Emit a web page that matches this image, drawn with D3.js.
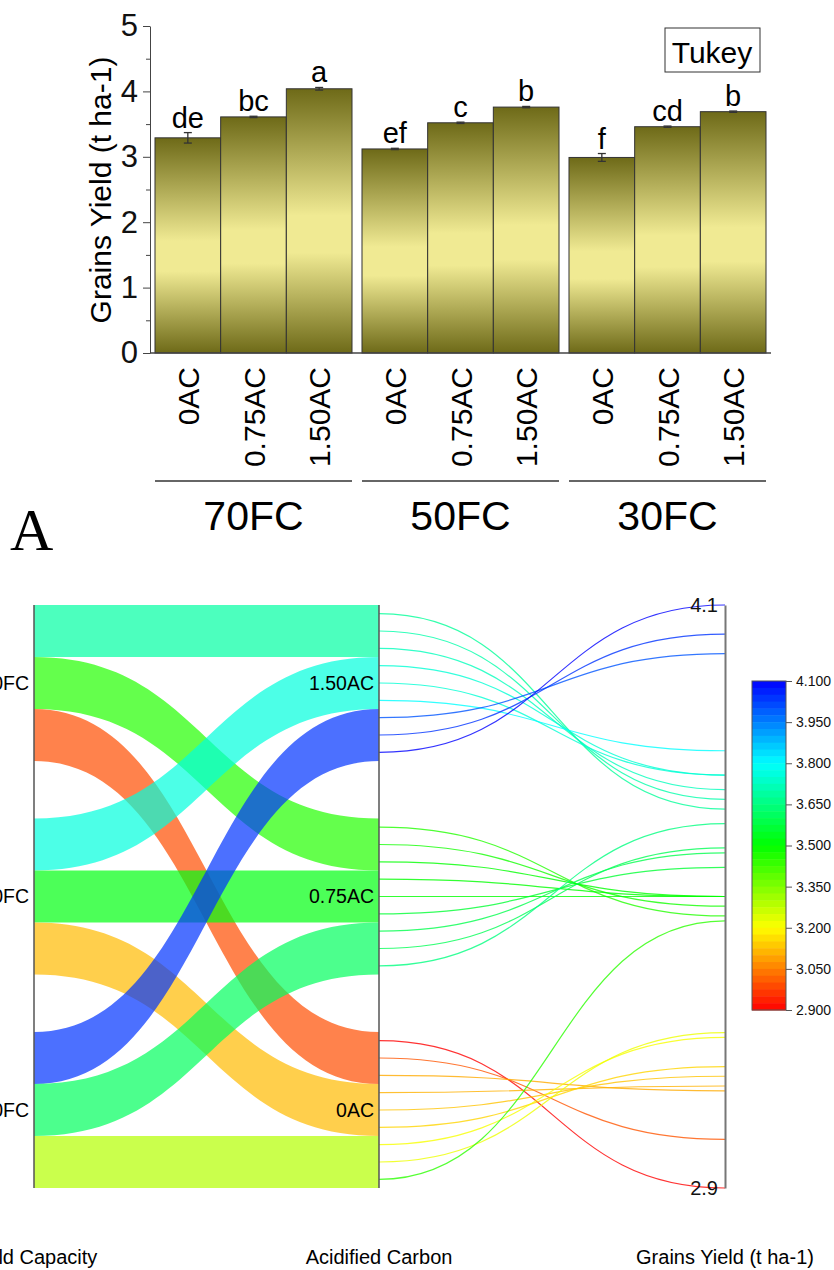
<!DOCTYPE html>
<html lang="en">
<head>
<meta charset="UTF-8">
<title>Grains Yield</title>
<style>
    body { margin: 0; background: #fff; }
    svg { display: block; font-family: "Liberation Sans", Arial, sans-serif; }
</style>
</head>
<body>
<div id="chart"></div>
<script src="https://cdnjs.cloudflare.com/ajax/libs/d3/7.8.5/d3.min.js"></script>
<script>
    // bar chart (means per FC group, AC level)
    const fcGroups = ["70FC", "50FC", "30FC"];
    const acLevels = ["0AC", "0.75AC", "1.50AC"];
    const yieldMeans = [[3.29, 3.61, 4.04], [3.12, 3.52, 3.76], [2.99, 3.46, 3.69]];
    const yieldErr = [[0.08, 0.01, 0.02], [0.01, 0.01, 0.01], [0.06, 0.01, 0.01]];
    const tukeyLetters = [["de", "bc", "a"], ["ef", "c", "b"], ["f", "cd", "b"]];
    const yTicks = [0, 1, 2, 3, 4, 5];
    const yMinorTicks = [0.5, 1.5, 2.5, 3.5, 4.5];

    // parallel sets: replicate yields, same order as above
    const leftOrder = ["30FC", "50FC", "70FC"];
    const midOrder = ["1.50AC", "0.75AC", "0AC"];
    const replicates = {
        "70FC": {"0AC": [3.21, 3.22, 3.45], "0.75AC": [3.59, 3.60, 3.65], "1.50AC": [4.00, 4.04, 4.10]},
        "50FC": {"0AC": [3.11, 3.13, 3.15], "0.75AC": [3.50, 3.50, 3.56], "1.50AC": [3.75, 3.75, 3.80]},
        "30FC": {"0AC": [2.90, 3.00, 3.10], "0.75AC": [3.46, 3.48, 3.50], "1.50AC": [3.68, 3.70, 3.72]}
    };
    const axisTitles = ["Field Capacity", "Acidified Carbon", "Grains Yield (t ha-1)"];
    const colorTicks = [2.9, 3.05, 3.2, 3.35, 3.5, 3.65, 3.8, 3.95, 4.1];

    let svg = d3.select("#chart").append("svg")
        .attr("width", 834)
        .attr("height", 1270);

    // ---------- A: bar chart ----------
    let y = d3.scaleLinear().domain([0, 5]).range([353, 26]);
    let xGroup = d3.scaleBand().domain(fcGroups).range([150, 771])
        .paddingInner(0.0483).paddingOuter(0.02415);
    let xBar = d3.scaleBand().domain(acLevels).range([0, xGroup.bandwidth()]);

    let grad = svg.append("defs").append("linearGradient")
        .attr("id", "olive")
        .attr("x1", 0).attr("y1", 0).attr("x2", 0).attr("y2", 1);
    grad.append("stop").attr("offset", 0).attr("stop-color", "#6e6a18");
    grad.append("stop").attr("offset", 0.48).attr("stop-color", "#f0ea93");
    grad.append("stop").attr("offset", 0.62).attr("stop-color", "#f0ea93");
    grad.append("stop").attr("offset", 1).attr("stop-color", "#6e6a18");

    let bars = [];
    fcGroups.forEach(function (fc, i) {
        acLevels.forEach(function (ac, j) {
            bars.push({fc: fc, ac: ac, mean: yieldMeans[i][j], err: yieldErr[i][j], letter: tukeyLetters[i][j]});
        });
    });
    let barX = function (d) { return xGroup(d.fc) + xBar(d.ac); };

    svg.append("g").selectAll("rect")
        .data(bars)
        .enter()
        .append("rect")
        .attr("x", barX)
        .attr("y", function (d) { return y(d.mean); })
        .attr("width", xBar.bandwidth())
        .attr("height", function (d) { return y(0) - y(d.mean); })
        .style("fill", "url(#olive)")
        .style("stroke", "#333")
        .style("stroke-width", 1);

    let err = svg.append("g").selectAll("g")
        .data(bars)
        .enter()
        .append("g")
        .attr("transform", function (d) { return `translate(${barX(d) + xBar.bandwidth() / 2},0)`; })
        .style("stroke", "#333")
        .style("stroke-width", 1.3);
    err.append("line")
        .attr("y1", function (d) { return y(d.mean - d.err); })
        .attr("y2", function (d) { return y(d.mean + d.err); });
    err.append("line").attr("x1", -4).attr("x2", 4)
        .attr("y1", function (d) { return y(d.mean + d.err); })
        .attr("y2", function (d) { return y(d.mean + d.err); });
    err.append("line").attr("x1", -4).attr("x2", 4)
        .attr("y1", function (d) { return y(d.mean - d.err); })
        .attr("y2", function (d) { return y(d.mean - d.err); });

    svg.append("g").selectAll("text")
        .data(bars)
        .enter()
        .append("text")
        .attr("x", function (d) { return barX(d) + xBar.bandwidth() / 2; })
        .attr("y", function (d) { return y(d.mean + d.err) - 5; })
        .attr("text-anchor", "middle")
        .style("font-size", "29px")
        .text(function (d) { return d.letter; });

    let yAxis = svg.append("g")
        .attr("transform", "translate(150,0)")
        .call(d3.axisLeft(y).tickValues(yTicks).tickSize(7).tickSizeOuter(0).tickPadding(5).tickFormat(d3.format("d")));
    yAxis.selectAll("text").style("font-size", "31px").style("fill", "#111");
    yAxis.selectAll("line, path").style("stroke", "#444");
    svg.append("g")
        .attr("transform", "translate(150,0)")
        .call(d3.axisLeft(y).tickValues(yMinorTicks).tickSize(4).tickFormat(""))
        .call(function (g) { g.select(".domain").remove(); })
        .selectAll("line").style("stroke", "#444");

    svg.append("line")
        .attr("x1", 150).attr("x2", 771)
        .attr("y1", y(0)).attr("y2", y(0))
        .style("stroke", "#444").style("stroke-width", 1.3);

    svg.append("text")
        .attr("transform", "translate(111,190) rotate(-90)")
        .attr("text-anchor", "middle")
        .style("font-size", "30px")
        .text("Grains Yield (t ha-1)");

    // rotated AC labels and FC group labels
    svg.append("g").selectAll("text")
        .data(bars)
        .enter()
        .append("text")
        .attr("transform", function (d) { return `translate(${barX(d) + xBar.bandwidth() / 2 + 11},367) rotate(-90)`; })
        .attr("text-anchor", "end")
        .style("font-size", "30px")
        .text(function (d) { return d.ac; });

    let grp = svg.append("g").selectAll("g")
        .data(fcGroups)
        .enter()
        .append("g");
    grp.append("line")
        .attr("x1", function (d) { return xGroup(d); })
        .attr("x2", function (d) { return xGroup(d) + xGroup.bandwidth(); })
        .attr("y1", 481).attr("y2", 481)
        .style("stroke", "#333").style("stroke-width", 1.5);
    grp.append("text")
        .attr("x", function (d) { return xGroup(d) + xGroup.bandwidth() / 2; })
        .attr("y", 530)
        .attr("text-anchor", "middle")
        .style("font-size", "41px")
        .text(function (d) { return d; });

    svg.append("rect")
        .attr("x", 665).attr("y", 28).attr("width", 95).attr("height", 44)
        .style("fill", "#fff").style("stroke", "#333");
    svg.append("text")
        .attr("x", 712).attr("y", 63)
        .attr("text-anchor", "middle")
        .style("font-size", "30px")
        .text("Tukey");

    svg.append("text")
        .attr("x", 10).attr("y", 550)
        .style("font-family", "'Liberation Serif', 'Times New Roman', serif")
        .style("font-size", "60px")
        .text("A");

    // ---------- parallel sets ----------
    let axisX = [34, 379, 725];
    let node = d3.scaleBand().domain([0, 1, 2]).range([605, 1188]).paddingInner(0.2693);
    let sub = node.bandwidth() / 3;
    let yv = d3.scaleLinear().domain([2.9, 4.1]).range([1188, 605]);
    let color = d3.scaleLinear()
        .domain([2.9, 3.2, 3.5, 3.8, 4.1])
        .range(["#ff0000", "#ffff00", "#00ff00", "#00ffff", "#0000ff"]);

    let flows = [];
    let lines = [];
    leftOrder.forEach(function (fc, i) {
        midOrder.forEach(function (ac, j) {
            let vals = replicates[fc][ac];
            let f = {
                y0: node(i) + j * sub,
                y1: node(j) + i * sub,
                mean: yieldMeans[fcGroups.indexOf(fc)][acLevels.indexOf(ac)]
            };
            flows.push(f);
            vals.forEach(function (v, k) {
                lines.push({source: [axisX[1], f.y1 + (k + 0.5) * sub / 3], target: [axisX[2], yv(v)], value: v});
            });
        });
    });

    let xm = (axisX[0] + axisX[1]) / 2;
    svg.append("g").selectAll("path")
        .data(flows)
        .enter()
        .append("path")
        .attr("d", function (d) {
            let a0 = d.y0, a1 = d.y0 + sub, b0 = d.y1, b1 = d.y1 + sub;
            return `M${axisX[0]},${a0}C${xm},${a0} ${xm},${b0} ${axisX[1]},${b0}` +
                `L${axisX[1]},${b1}C${xm},${b1} ${xm},${a1} ${axisX[0]},${a1}Z`;
        })
        .style("fill", function (d) { return color(d.mean); })
        .style("fill-opacity", 0.7);

    let link = d3.linkHorizontal();
    svg.append("g").selectAll("path")
        .data(lines)
        .enter()
        .append("path")
        .attr("d", link)
        .style("fill", "none")
        .style("stroke", function (d) { return color(d.value); })
        .style("stroke-width", 1.2)
        .style("stroke-opacity", 0.8);

    svg.append("g").selectAll("line")
        .data(axisX.slice(0, 2))
        .enter()
        .append("line")
        .attr("x1", function (d) { return d; }).attr("x2", function (d) { return d; })
        .attr("y1", 605).attr("y2", 1188)
        .style("stroke", "#555").style("stroke-width", 1.5);

    let rAxis = svg.append("g")
        .attr("transform", `translate(${axisX[2]},0)`)
        .call(d3.axisLeft(yv).tickValues([2.9, 4.1]).tickSize(0).tickSizeOuter(0).tickPadding(7).tickFormat(d3.format(".1f")));
    rAxis.selectAll("text").style("font-size", "20px").style("fill", "#111");
    rAxis.select(".domain").style("stroke", "#777").style("stroke-width", 2);

    svg.append("g").selectAll("text")
        .data(leftOrder)
        .enter()
        .append("text")
        .attr("x", axisX[0] - 5)
        .attr("y", function (d, i) { return node(i) + node.bandwidth() / 2; })
        .attr("dy", "0.35em")
        .attr("text-anchor", "end")
        .style("font-size", "19.5px")
        .text(function (d) { return d; });

    svg.append("g").selectAll("text")
        .data(midOrder)
        .enter()
        .append("text")
        .attr("x", axisX[1] - 5)
        .attr("y", function (d, i) { return node(i) + node.bandwidth() / 2; })
        .attr("dy", "0.35em")
        .attr("text-anchor", "end")
        .style("font-size", "19.5px")
        .text(function (d) { return d; });

    svg.append("g").selectAll("text")
        .data(axisTitles)
        .enter()
        .append("text")
        .attr("x", function (d, i) { return axisX[i]; })
        .attr("y", 1264)
        .attr("text-anchor", "middle")
        .style("font-size", "20px")
        .text(function (d) { return d; });

    // colour bar
    let cb = d3.scaleLinear().domain([2.9, 4.1]).range([1010, 681]);
    let steps = d3.range(48);
    let stepH = (cb(2.9) - cb(4.1)) / steps.length;
    svg.append("g").selectAll("rect")
        .data(steps)
        .enter()
        .append("rect")
        .attr("x", 752)
        .attr("y", function (d) { return cb(4.1) + d * stepH; })
        .attr("width", 34)
        .attr("height", stepH + 0.5)
        .style("fill", function (d) { return color(cb.invert(cb(4.1) + (d + 0.5) * stepH)); });
    svg.append("rect")
        .attr("x", 752).attr("y", cb(4.1)).attr("width", 34).attr("height", cb(2.9) - cb(4.1))
        .style("fill", "none").style("stroke", "#555");
    let cAxis = svg.append("g")
        .attr("transform", "translate(786,0)")
        .call(d3.axisRight(cb).tickValues(colorTicks).tickSize(6).tickSizeOuter(0).tickPadding(4).tickFormat(d3.format(".3f")));
    cAxis.select(".domain").remove();
    cAxis.selectAll("line").style("stroke", "#555");
    cAxis.selectAll("text").style("font-size", "14px").style("fill", "#111");
</script>
</body>
</html>
